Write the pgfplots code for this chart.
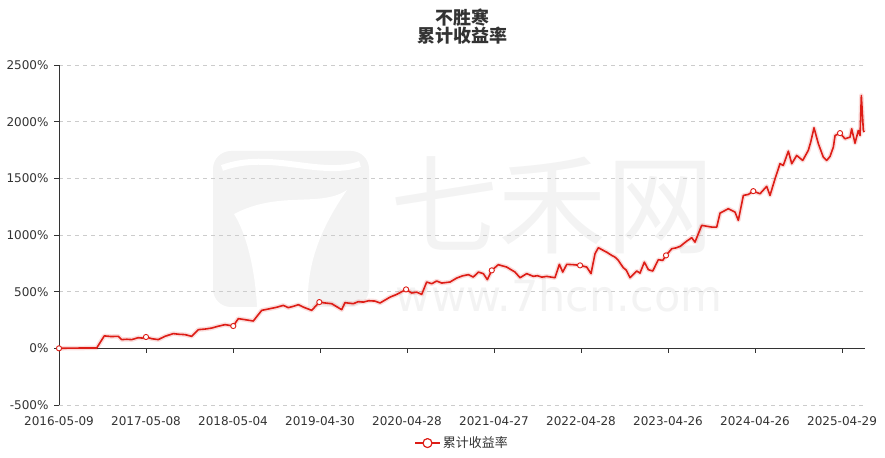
\documentclass[border=0pt]{standalone}
\usepackage{fontspec}
\setmainfont{DejaVu Sans}
\newfontfamily\cjk{Noto Sans CJK SC}
\usepackage{pgfplots}
\usepackage{pgfplotstable}
\pgfplotsset{compat=1.18}

\definecolor{lred}{RGB}{221,29,22}
\definecolor{txt}{RGB}{51,51,51}
\definecolor{gridc}{RGB}{204,204,204}
\definecolor{wm}{RGB}{243,243,243}

% x = years since 2016-05-09 (one tick per label), y = cumulative return in %
\pgfplotstableread{
x y
0.000 0
0.150 2
0.300 3
0.433 3
0.521 110
0.600 104
0.682 106
0.721 77
0.780 80
0.836 77
0.911 94
0.960 90
1.000 100
1.066 85
1.141 77
1.218 106
1.314 130
1.380 124
1.448 121
1.525 106
1.601 165
1.680 170
1.755 179
1.830 195
1.908 209
2.003 197
2.061 262
2.138 253
2.233 241
2.330 335
2.425 350
2.500 362
2.578 379
2.636 359
2.700 372
2.751 385
2.808 364
2.905 335
2.992 408
3.060 400
3.134 394
3.249 341
3.287 403
3.383 394
3.440 412
3.498 408
3.560 420
3.632 417
3.690 400
3.805 452
3.882 476
3.989 520
4.054 488
4.111 496
4.169 476
4.226 585
4.284 570
4.341 594
4.399 576
4.494 585
4.571 620
4.640 640
4.705 650
4.762 629
4.820 673
4.877 659
4.923 606
4.974 688
5.049 738
5.146 717
5.241 673
5.299 623
5.376 659
5.452 635
5.500 641
5.550 628
5.606 635
5.701 623
5.751 741
5.790 673
5.836 741
5.911 738
5.989 732
6.066 717
6.115 659
6.161 835
6.199 888
6.256 864
6.300 846
6.353 820
6.390 805
6.429 776
6.486 711
6.520 690
6.563 623
6.640 682
6.678 664
6.728 761
6.774 694
6.824 682
6.889 782
6.939 776
6.977 820
7.043 879
7.090 886
7.138 899
7.215 946
7.272 976
7.310 937
7.387 1085
7.440 1078
7.502 1070
7.560 1070
7.598 1193
7.693 1232
7.770 1202
7.808 1129
7.866 1349
7.923 1358
7.980 1387
8.057 1364
8.134 1429
8.172 1349
8.230 1496
8.287 1629
8.325 1614
8.383 1740
8.422 1629
8.479 1702
8.548 1658
8.612 1746
8.640 1820
8.678 1946
8.728 1805
8.785 1687
8.824 1658
8.862 1693
8.900 1775
8.920 1878
8.977 1899
9.034 1849
9.092 1864
9.111 1937
9.149 1810
9.187 1922
9.207 1878
9.222 2231
9.245 1922
9.256 1908
}\cumret

% symbols shown at the labelled dates
\pgfplotstableread{
x y
0.000 0
1.000 100
2.003 197
2.992 408
3.989 520
4.974 688
5.989 732
6.977 820
7.980 1387
8.977 1899
}\marks

\begin{document}
\begin{tikzpicture}
\path[use as bounding box] (0,0) rectangle (885bp,458bp);

% watermark
\fill[wm, rounded corners=18bp] (213bp,151bp) rectangle (369bp,307bp);
\fill[white] (234bp,244bp) .. controls (280bp,268bp) and (320bp,250bp) .. (347bp,268bp)
  .. controls (322bp,232bp) and (306bp,195bp) .. (308bp,151bp) -- (257bp,151bp)
  .. controls (255bp,190bp) and (246bp,225bp) .. cycle;
\draw[white, line width=6bp] (222bp,290bp) .. controls (270bp,308bp) and (320bp,280bp) .. (360bp,294bp);
\node[wm, font=\cjk\fontsize{108bp}{110bp}\selectfont] at (552bp,253bp) {七禾网};
\node[wm, font=\fontsize{43bp}{45bp}\selectfont] at (559bp,163bp) {www.7hcn.com};

\begin{axis}[
    at={(59bp,53bp)}, anchor=south west,
    scale only axis, width=806bp, height=340bp,
    xmin=0, xmax=9.264,
    ymin=-500, ymax=2500,
    clip=false,
    axis y line*=left,
    axis x line*=bottom,
    x axis line style={draw=none},
    y axis line style={draw=txt, line width=0.8bp, -},
    x tick style={draw=none},
    y tick style={draw=txt, line width=0.8bp},
    tick align=outside,
    major tick length=5bp,
    xtick={0,1,...,9},
    xticklabels={2016-05-09,2017-05-08,2018-05-04,2019-04-30,2020-04-28,
      2021-04-27,2022-04-28,2023-04-26,2024-04-26,2025-04-29},
    ytick={-500,0,500,1000,1500,2000,2500},
    yticklabels={-500\%,0\%,500\%,1000\%,1500\%,2000\%,2500\%},
    ticklabel style={font=\fontsize{12bp}{14bp}\selectfont, text=txt},
    xticklabel style={yshift=-3bp},
    yticklabel style={xshift=-2bp},
    ymajorgrids,
    major grid style={gridc, line width=0.8bp, dash pattern=on 4bp off 4bp},
    legend style={at={(0.5,-0.112)}, anchor=center, draw=none, fill=none,
      font=\cjk\fontsize{13bp}{15bp}\selectfont, text=txt},
    legend image code/.code={
      \draw[lred, line width=1.5bp] (0bp,0bp) -- (25bp,0bp);
      \draw[lred, line width=1.2bp, fill=white] (12.5bp,0bp) circle (4.5bp);
    },
]
% zero line with its ticks
\draw[txt, line width=0.8bp] (0,0) -- (9.264,0);
\pgfplotsinvokeforeach{1,...,9}{\draw[txt, line width=0.8bp] (#1,0) -- ++(0bp,-5bp);}

\addplot[lred, opacity=0.15, line width=4.5bp, line join=round, forget plot] table[x=x,y=y] {\cumret};
\addplot[lred, line width=1.6bp, line join=round] table[x=x,y=y] {\cumret};
\addlegendentry{累计收益率}
\addplot[only marks, mark=*, mark size=2.6bp, mark options={draw=lred, fill=white, line width=0.9bp}, forget plot] table[x=x,y=y] {\marks};
\end{axis}

\node[txt, font=\cjk\bfseries\fontsize{18bp}{20bp}\selectfont] at (462bp,440bp) {不胜寒};
\node[txt, font=\cjk\bfseries\fontsize{18bp}{20bp}\selectfont] at (462bp,422bp) {累计收益率};
\end{tikzpicture}
\end{document}
